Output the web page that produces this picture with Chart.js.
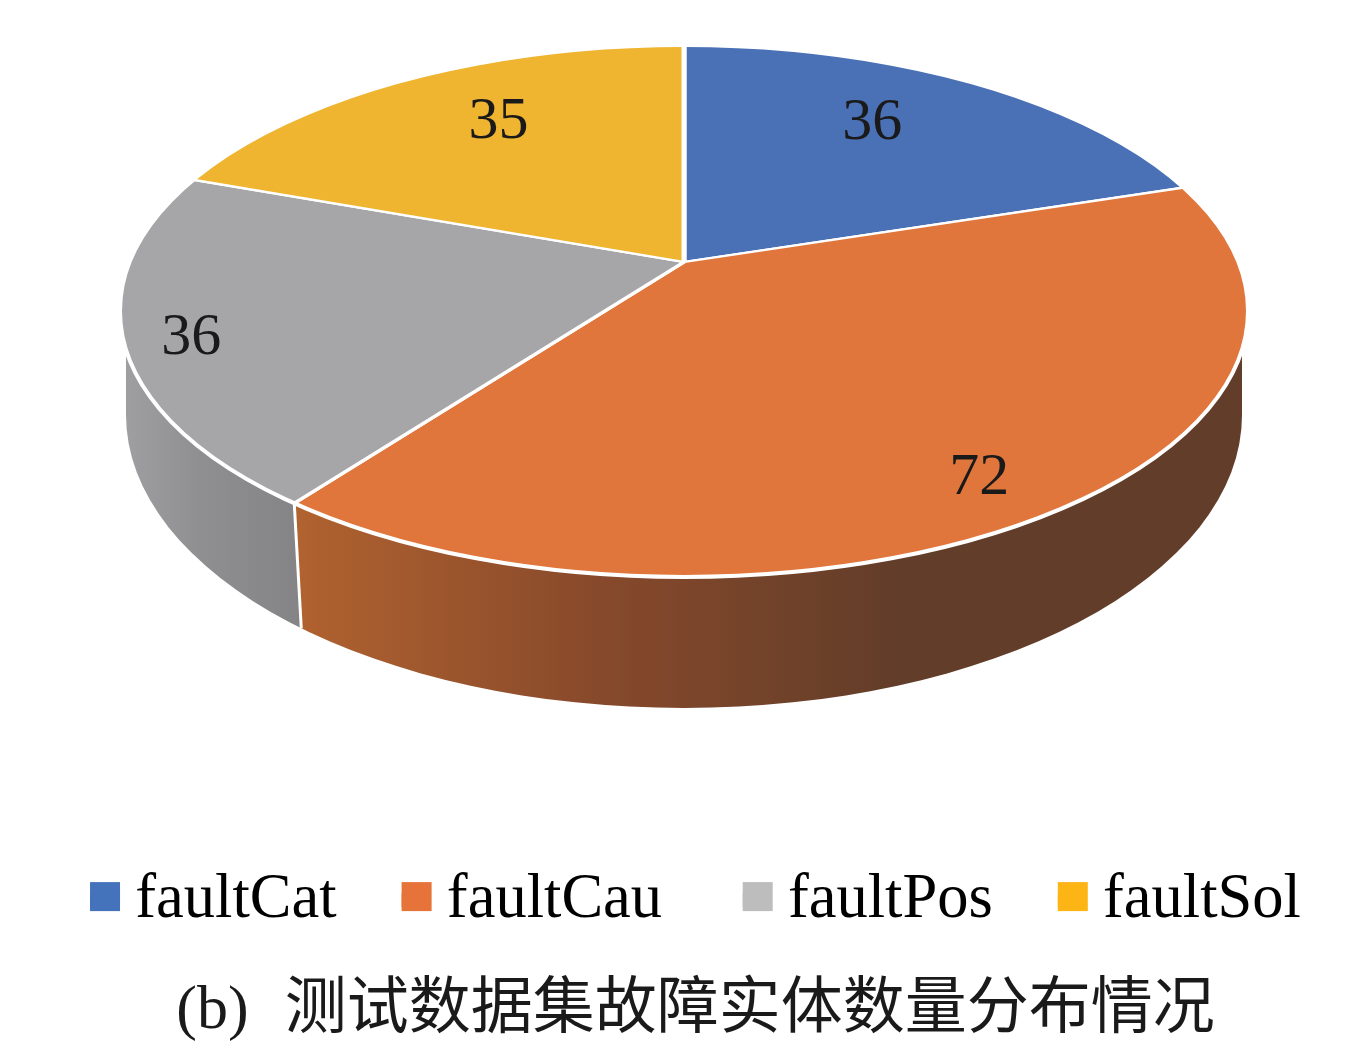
<!DOCTYPE html>
<html lang="en">
<head>
<meta charset="UTF-8">
<title>faultPie</title>
<script src="https://cdn.jsdelivr.net/npm/chart.js"></script>
<style>
  html, body { margin:0; background:#fff; }
  canvas { display:block; }
</style>
</head>
<body>
<canvas id="pie" width="1363" height="1055"></canvas>
<script>
const categories = ['faultCat', 'faultCau', 'faultPos', 'faultSol'];
const counts = [36, 72, 36, 35];
const faceColors = ['#4a71b5', '#e0763c', '#a6a6a8', '#efb430'];
const legendColors = ['#4472bb', '#e6743a', '#bdbdbd', '#fdb515'];
const captionText = '(b)  \u200a测试数据集故障实体数量分布情况';

// the pie is tilted: slices fan out from apex, rim is an ellipse lower down
const apex = {x: 684, y: 262};
const squash = 0.47;
const rim = {x: 684, y: 311, rx: 564, ry: 266};
const base = {x: 684, y: 415, rx: 558, ry: 293};
// label placement: degrees off the slice middle, distance from apex
const labelShift = [-4.3, 2.2, -1, 3.8];
const labelDist = [356, 542, 517, 356];

function rimPoint(angle) {
  // ray from apex along a slice edge, up to the rim ellipse
  const dx = Math.cos(angle), dy = Math.sin(angle) * squash;
  const ox = (apex.x - rim.x) / rim.rx, oy = (apex.y - rim.y) / rim.ry;
  const ax = dx / rim.rx, ay = dy / rim.ry;
  const a = ax * ax + ay * ay, b = 2 * (ox * ax + oy * ay), c = ox * ox + oy * oy - 1;
  const t = (-b + Math.sqrt(b * b - 4 * a * c)) / (2 * a);
  return {x: apex.x + dx * t, y: apex.y + dy * t};
}

function wallShape(ctx) {
  ctx.beginPath();
  ctx.ellipse(base.x, base.y, base.rx, base.ry, 0, 0, Math.PI);
  ctx.lineTo(base.x - base.rx, 340);
  ctx.lineTo(base.x + base.rx, 340);
  ctx.closePath();
}

const tiltedPie = {
  id: 'tiltedPie',
  beforeDatasetsDraw(chart) {
    const ctx = chart.ctx;
    const arcs = chart.getDatasetMeta(0).data;
    const top = rimPoint(arcs[2].startAngle);
    const bottom = {x: top.x + 7, y: top.y + 125};

    ctx.save();
    wallShape(ctx);
    ctx.clip();

    // gray side, left of the seam
    let g = ctx.createLinearGradient(120, 0, 300, 0);
    g.addColorStop(0, '#a09fa2');
    g.addColorStop(0.45, '#8f8e91');
    g.addColorStop(1, '#848386');
    ctx.fillStyle = g;
    ctx.beginPath();
    ctx.moveTo(top.x, top.y);
    ctx.lineTo(bottom.x, bottom.y);
    ctx.lineTo(bottom.x, 1055);
    ctx.lineTo(0, 1055);
    ctx.lineTo(0, 300);
    ctx.lineTo(top.x, 300);
    ctx.closePath();
    ctx.fill();

    // orange side, right of the seam
    g = ctx.createLinearGradient(300, 0, 900, 0);
    g.addColorStop(0, '#b0622f');
    g.addColorStop(0.5, '#87492b');
    g.addColorStop(1, '#623d29');
    ctx.fillStyle = g;
    ctx.beginPath();
    ctx.moveTo(top.x, top.y);
    ctx.lineTo(bottom.x, bottom.y);
    ctx.lineTo(bottom.x, 1055);
    ctx.lineTo(1363, 1055);
    ctx.lineTo(1363, 300);
    ctx.lineTo(top.x, 300);
    ctx.closePath();
    ctx.fill();
    ctx.restore();

    // seam
    ctx.strokeStyle = '#fff';
    ctx.lineWidth = 3;
    ctx.beginPath();
    ctx.moveTo(top.x, top.y);
    ctx.lineTo(bottom.x, bottom.y);
    ctx.stroke();

    // top face: clipped to the rim, squashed around the apex
    ctx.save();
    ctx.beginPath();
    ctx.ellipse(rim.x, rim.y, rim.rx, rim.ry, 0, 0, Math.PI * 2);
    ctx.clip();
    ctx.translate(apex.x, apex.y);
    ctx.scale(1, squash);
    ctx.translate(-arcs[0].x, -arcs[0].y);
  },
  afterDatasetsDraw(chart) {
    const ctx = chart.ctx;
    const arcs = chart.getDatasetMeta(0).data;
    ctx.restore();

    ctx.strokeStyle = '#fff';
    ctx.lineWidth = 4;
    ctx.beginPath();
    ctx.ellipse(rim.x, rim.y, rim.rx, rim.ry, 0, 0, Math.PI * 2);
    ctx.stroke();

    ctx.fillStyle = '#1a1a1a';
    ctx.font = '60px "Liberation Serif"';
    ctx.textAlign = 'center';
    ctx.textBaseline = 'middle';
    arcs.forEach((arc, i) => {
      const a = (arc.startAngle + arc.endAngle) / 2 + labelShift[i] * Math.PI / 180;
      ctx.fillText(String(counts[i]),
        apex.x + Math.cos(a) * labelDist[i],
        apex.y + Math.sin(a) * labelDist[i] * squash + 3);
    });
  },
  afterDraw(chart) {
    // legend squares are bigger than the text gap chart.js leaves for them
    const ctx = chart.ctx;
    chart.legend.legendHitBoxes.forEach((box, i) => {
      ctx.fillStyle = legendColors[i];
      ctx.fillRect(box.left, box.top + 13, 30, 29);
    });
  }
};

new Chart(document.getElementById('pie'), {
  type: 'pie',
  data: {
    labels: categories,
    datasets: [{
      data: counts,
      backgroundColor: faceColors,
      borderColor: '#fff',
      borderWidth: 5,
      radius: 720,
      clip: false
    }]
  },
  options: {
    responsive: false,
    animation: false,
    events: [],
    // negative right: legend row needs the room and sits right of canvas centre
    layout: {padding: {left: 25, right: -3, bottom: 6}},
    plugins: {
      tooltip: {enabled: false},
      legend: {
        position: 'bottom',
        labels: {
          boxWidth: 14,
          boxHeight: 14,
          padding: 65,
          color: '#1a1a1a',
          font: {family: '"Liberation Serif"', size: 62.5},
          generateLabels: () => categories.map((name, i) => ({
            // trailing space: the reference leaves a wider gap after faultCau
            text: i === 1 ? name + ' ' : name,
            fillStyle: legendColors[i],
            strokeStyle: legendColors[i],
            lineWidth: 0,
            index: i
          }))
        }
      },
      title: {
        display: true,
        position: 'bottom',
        text: captionText,
        color: '#1a1a1a',
        font: {family: '"Liberation Serif", "Noto Sans CJK SC"', size: 62, weight: 'normal'},
        padding: {top: 33, bottom: 0}
      }
    }
  },
  plugins: [tiltedPie]
});
</script>
</body>
</html>
